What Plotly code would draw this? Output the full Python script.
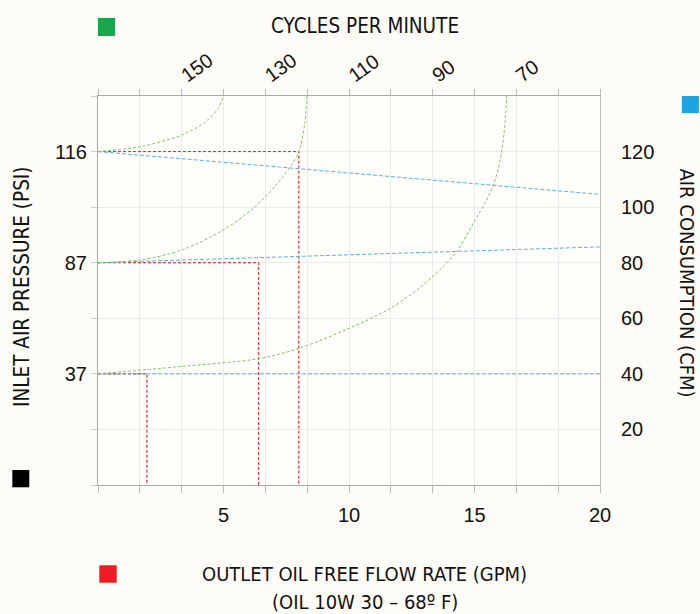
import plotly.graph_objects as go

# ---------------- data ----------------
# x: outlet oil free flow rate (GPM); y: air consumption (CFM)
flow_ticks = [5, 10, 15, 20]
cfm_ticks = [20, 40, 60, 80, 100, 120]
psi_tick_cfm = [40, 80, 120]
psi_labels = ["37", "87", "116"]
cycle_tick_pos = [3.33, 6.67, 10, 13.33, 16.67]
cycle_labels = ["150", "130", "110", "90", "70"]

# green cycle curves
cyc1_x = [0, 1.7, 3.35, 4.25, 4.78, 5.0]
cyc1_y = [120, 121.8, 126.0, 130.5, 135.5, 140]
cyc2_x = [0, 1.69, 3.35, 5.0, 6.11, 7.04, 7.71, 8.0, 8.24, 8.33]
cyc2_y = [80, 81.0, 84.6, 91.8, 99.0, 107.4, 115.2, 120.1, 130.2, 140]
cyc3_x = [0, 3.35, 6.43, 8.04, 10.03, 11.67, 12.82, 13.62, 14.29, 14.99, 15.48, 15.75, 16.01, 16.19, 16.28]
cyc3_y = [40, 42.7, 45.5, 49.3, 56.5, 63.7, 71.0, 77.5, 84.0, 94.8, 102.5, 107.9, 116.5, 127.5, 140]

# blue air consumption lines
air_x = [0, 20]
air116_y = [120, 104.6]
air87_y = [80, 85.7]
air37_y = [40, 40]

# red flow rate lines: pressure level (cfm position) and flow value
flow_levels = [120, 80, 40]
flow_values = [8.0, 6.4, 1.95]

GREEN = "#7cc66c"
BLUE = "#52b4e6"
RED = "#e8262c"
TICKFONT = dict(family="Liberation Sans, Arial, sans-serif", size=20, color="#111")
TITLEFONT = "DejaVu Sans Condensed, Roboto, sans-serif"

fig = go.Figure()

# blue lines (right axis)
for yy in (air116_y, air87_y, air37_y):
    fig.add_trace(go.Scatter(x=air_x, y=yy, mode="lines", xaxis="x", yaxis="y2",
                             line=dict(color=BLUE, width=1, dash="4px,2px"),
                             hoverinfo="skip", showlegend=False))

# red lines
for lvl, fv in zip(flow_levels, flow_values):
    fig.add_trace(go.Scatter(x=[0, fv, fv], y=[lvl, lvl, 0], mode="lines",
                             line=dict(color="#555", width=1, dash="2px,3px"),
                             opacity=0.5, hoverinfo="skip", showlegend=False))
    fig.add_trace(go.Scatter(x=[0, fv, fv], y=[lvl, lvl, 0], mode="lines",
                             line=dict(color=RED, width=1, dash="3px,2px"),
                             hoverinfo="skip", showlegend=False))

# green cycle curves (top axis)
for cx, cy in ((cyc1_x, cyc1_y), (cyc2_x, cyc2_y), (cyc3_x, cyc3_y)):
    fig.add_trace(go.Scatter(x=cx, y=cy, mode="lines", xaxis="x2", yaxis="y",
                             line=dict(color=GREEN, width=1, dash="3px,2px", shape="spline", smoothing=0.9),
                             hoverinfo="skip", showlegend=False))

GRID = "#ebebeb"
AXLINE = "#a8a8a8"

fig.update_layout(
    width=700, height=614,
    margin=dict(l=98, r=100, t=96, b=129),
    paper_bgcolor="#fdfcf6",
    plot_bgcolor="#fffefa",
    showlegend=False,
    xaxis=dict(range=[0, 20], tickvals=flow_ticks, ticks="outside", ticklen=7,
               tickcolor="#bbb", showgrid=True, gridcolor=GRID, zeroline=False,
               showline=True, linecolor=AXLINE, tickfont=TICKFONT, ticklabelstandoff=5,
               minor=dict(dtick=5/3, tick0=0, ticks="outside", ticklen=7, tickcolor="#bbb",
                          showgrid=True, gridcolor=GRID)),
    xaxis2=dict(range=[0, 20], overlaying="x", side="top", tickvals=cycle_tick_pos,
                ticktext=cycle_labels, tickangle=-36, ticks="outside", ticklen=6,
                tickcolor="#bbb", showgrid=False, zeroline=False, showline=True,
                linecolor=AXLINE, tickfont=TICKFONT, ticklabelstandoff=-4,
                minor=dict(dtick=5/3, tick0=0, ticks="outside", ticklen=6, tickcolor="#bbb",
                           showgrid=False)),
    yaxis=dict(range=[0, 140], tickvals=psi_tick_cfm, ticktext=psi_labels, ticks="outside",
               ticklen=6, tickcolor="#ccc", showgrid=True, gridcolor=GRID, zeroline=False,
               showline=True, linecolor=AXLINE, tickfont=TICKFONT,
               minor=dict(dtick=20, tick0=0, ticks="outside", ticklen=6, tickcolor="#ccc",
                          showgrid=True, gridcolor=GRID)),
    yaxis2=dict(range=[0, 140], overlaying="y", side="right", tickvals=cfm_ticks,
                ticks="", showgrid=False, zeroline=False, showline=True, linecolor="#bbb",
                tickfont=TICKFONT, ticklabelstandoff=16),
)

# titles
def title(text, x, y, size, angle=0):
    fig.add_annotation(text=text, xref="paper", yref="paper", x=x, y=y, textangle=angle,
                       xanchor="center", yanchor="middle", showarrow=False,
                       font=dict(family=TITLEFONT, size=size, color="#111"))

title("CYCLES PER MINUTE", 0.531, 1.18, 20.5)
title("INLET AIR PRESSURE (PSI)", -0.1514, 0.509, 20.5, -90)
title("AIR CONSUMPTION (CFM)", 1.1725, 0.519, 20, 90)
title("OUTLET OIL FREE FLOW RATE (GPM)", 0.531, -0.2288, 20)
title("(OIL 10W 30 – 68º F)", 0.531, -0.3008, 20)

# colour key squares
squares = [
    ("#1aa64a", 0.0, 0.0339, 1.154, 1.2005),
    ("#1ea5e0", 1.163, 1.197, 0.956, 1.0),
    ("#000000", -0.1707, -0.1369, -0.0059, 0.0386),
    ("#ee1c25", 0.0026, 0.0373, -0.2512, -0.2064),
]
for col, x0, x1, y0, y1 in squares:
    fig.add_shape(type="rect", xref="paper", yref="paper", x0=x0, x1=x1, y0=y0, y1=y1,
                  fillcolor=col, line=dict(width=0))

fig.write_html("out.html", config={"displayModeBar": False},
               post_script="document.body.style.margin='0px';")
